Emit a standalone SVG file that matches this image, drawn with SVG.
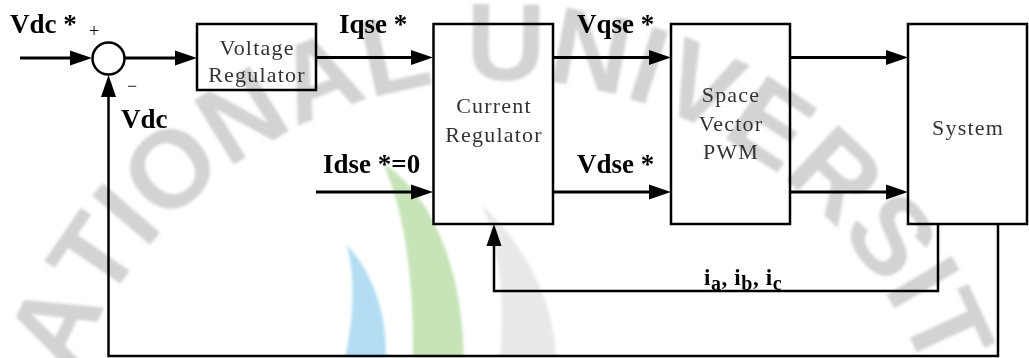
<svg xmlns="http://www.w3.org/2000/svg" width="1029" height="358" viewBox="0 0 1029 358">
  <style>
    .box { fill: none; stroke: #000; stroke-width: 2.5; }
    .wire { fill: none; stroke: #000; stroke-width: 3; }
    .fb { fill: none; stroke: #000; stroke-width: 2.5; }
    .arr { marker-end: url(#ah); }
    .blk { font-family: "Liberation Serif", "Times New Roman", serif; font-size: 22px; fill: #333; letter-spacing: 1.2px; text-anchor: middle; }
    .sig { font-family: "Liberation Serif", "Times New Roman", serif; font-weight: bold; font-size: 27px; fill: #000; }
    .sub { font-family: "Liberation Serif", "Times New Roman", serif; font-weight: bold; font-size: 23px; fill: #000; letter-spacing: 0.6px; }
    .sgn { font-family: "Liberation Serif", "Times New Roman", serif; font-size: 18px; fill: #000; text-anchor: middle; }
    .wm { font-family: "Liberation Sans", Arial, sans-serif; font-weight: bold; font-size: 110px; fill: #d3d3d3; text-anchor: middle; }
  </style>
  <defs>
    <marker id="ah" markerUnits="userSpaceOnUse" markerWidth="22" markerHeight="16" refX="14" refY="8" orient="auto">
      <path d="M0,0.5 L22,8 L0,15.5 z" fill="#000"/>
    </marker>
    <filter id="soft" x="-10%" y="-10%" width="120%" height="120%">
      <feGaussianBlur stdDeviation="1.5"/>
    </filter>
  </defs>

  <rect x="0" y="0" width="1029" height="358" fill="#fff"/>

  <!-- watermark (logo + circular lettering) -->
  <g id="watermark" filter="url(#soft)">
    <path d="M383,163 C425,190 462,255 464,358 L413,358 C414,285 406,215 383,163 Z" fill="#c6e4b8"/>
    <path d="M347,245 C372,272 387,312 386,358 L345,358 C353,322 356,282 347,245 Z" fill="#b3ddf2"/>
    <path d="M482,205 C522,242 555,300 556,358 L500,358 C505,300 500,250 482,205 Z" fill="#e7e9eb"/>
    <text class="wm" x="500" y="80" transform="rotate(-64.73 500 535)">A</text>
    <text class="wm" x="500" y="80" transform="rotate(-55.5 500 535)">T</text>
    <text class="wm" x="500" y="80" transform="rotate(-49.34 500 535)">I</text>
    <text class="wm" x="500" y="80" transform="rotate(-42.02 500 535)">O</text>
    <text class="wm" x="500" y="80" transform="rotate(-31.63 500 535)">N</text>
    <text class="wm" x="500" y="80" transform="rotate(-21.63 500 535)">A</text>
    <text class="wm" x="500" y="80" transform="rotate(-12.4 500 535)">L</text>
    <text class="wm" x="500" y="80" transform="rotate(0.68 500 535)">U</text>
    <text class="wm" x="500" y="80" transform="rotate(10.68 500 535)">N</text>
    <text class="wm" x="500" y="80" transform="rotate(17.6 500 535)">I</text>
    <text class="wm" x="500" y="80" transform="rotate(24.15 500 535)">V</text>
    <text class="wm" x="500" y="80" transform="rotate(33.38 500 535)">E</text>
    <text class="wm" x="500" y="80" transform="rotate(43 500 535)">R</text>
    <text class="wm" x="500" y="80" transform="rotate(52.61 500 535)">S</text>
    <text class="wm" x="500" y="80" transform="rotate(59.15 500 535)">I</text>
    <text class="wm" x="500" y="80" transform="rotate(65.31 500 535)">T</text>
  </g>

  <!-- connectors -->
  <g id="connectors">
    <path class="wire arr" d="M20,58 H84"/>
    <path class="wire arr" d="M125,58 H189"/>
    <path class="wire arr" d="M316,57.5 H425"/>
    <path class="wire arr" d="M316,192 H425"/>
    <path class="wire arr" d="M553,57.5 H663"/>
    <path class="wire arr" d="M553,192 H663"/>
    <path class="wire arr" d="M790,57.5 H900"/>
    <path class="wire arr" d="M790,192 H900"/>
    <path class="fb arr" d="M938,224 V291 H494 V232"/>
    <path class="fb arr" d="M998,224 V356 H108.5 V83"/>
  </g>

  <!-- summing junction -->
  <g id="sum">
    <circle cx="108.5" cy="58.5" r="16" fill="none" stroke="#000" stroke-width="2.5"/>
    <text class="sgn" x="94" y="37">+</text>
    <text class="sgn" x="132" y="92">−</text>
  </g>

  <g id="voltage-regulator">
    <rect class="box" x="197" y="24" width="119" height="66"/>
    <text class="blk" x="257" y="54.5">Voltage</text>
    <text class="blk" x="257" y="81.5">Regulator</text>
  </g>

  <g id="current-regulator">
    <rect class="box" x="433.5" y="24" width="119.5" height="200"/>
    <text class="blk" x="494" y="113">Current</text>
    <text class="blk" x="494" y="142">Regulator</text>
  </g>

  <g id="svpwm">
    <rect class="box" x="671" y="24" width="119" height="200"/>
    <text class="blk" x="731" y="102">Space</text>
    <text class="blk" x="731" y="131">Vector</text>
    <text class="blk" x="731" y="159">PWM</text>
  </g>

  <g id="system">
    <rect class="box" x="908" y="24" width="119" height="200"/>
    <text class="blk" x="968" y="135">System</text>
  </g>

  <!-- signal labels -->
  <g id="labels">
    <text class="sig" x="10" y="33">Vdc *</text>
    <text class="sig" x="121" y="128">Vdc</text>
    <text class="sig" x="339" y="33">Iqse *</text>
    <text class="sig" x="323" y="173">Idse *=0</text>
    <text class="sig" x="577" y="33">Vqse *</text>
    <text class="sig" x="577" y="173">Vdse *</text>
    <text class="sub" x="704" y="285">i<tspan dy="4.5" font-size="20">a</tspan><tspan dy="-4.5">, i</tspan><tspan dy="4.5" font-size="20">b</tspan><tspan dy="-4.5">, i</tspan><tspan dy="4.5" font-size="20">c</tspan></text>
  </g>
</svg>
